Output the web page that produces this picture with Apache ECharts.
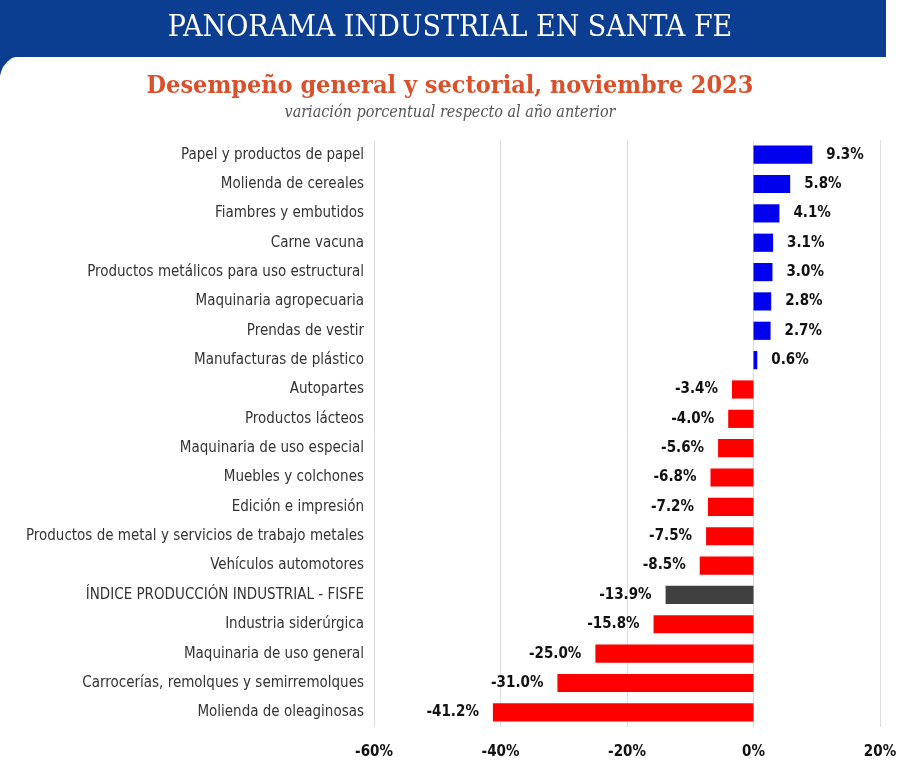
<!DOCTYPE html>
<html>
<head>
<meta charset="utf-8">
<script src="https://cdn.jsdelivr.net/npm/echarts@6/dist/echarts.min.js"></script>
<style>
  html, body { margin: 0; padding: 0; background: #fff; }
  #main { width: 900px; height: 776px; }
</style>
</head>
<body>
<div id="main"></div>
<script>
// datos del gráfico
var categorias = [
  'Papel y productos de papel',
  'Molienda de cereales',
  'Fiambres y embutidos',
  'Carne vacuna',
  'Productos metálicos para uso estructural',
  'Maquinaria agropecuaria',
  'Prendas de vestir',
  'Manufacturas de plástico',
  'Autopartes',
  'Productos lácteos',
  'Maquinaria de uso especial',
  'Muebles y colchones',
  'Edición e impresión',
  'Productos de metal y servicios de trabajo metales',
  'Vehículos automotores',
  'ÍNDICE PRODUCCIÓN INDUSTRIAL - FISFE',
  'Industria siderúrgica',
  'Maquinaria de uso general',
  'Carrocerías, remolques y semirremolques',
  'Molienda de oleaginosas'
];
var variaciones = [9.3, 5.8, 4.1, 3.1, 3.0, 2.8, 2.7, 0.6, -3.4, -4.0, -5.6, -6.8, -7.2, -7.5, -8.5, -13.9, -15.8, -25.0, -31.0, -41.2];
var indiceGeneral = 'ÍNDICE PRODUCCIÓN INDUSTRIAL - FISFE';
var ejeMin = -60, ejeMax = 20, ejeIntervalo = 20;

var myChart = echarts.init(document.getElementById('main'));

var datos = variaciones.map(function (v, i) {
  var color = categorias[i] === indiceGeneral ? '#404040' : (v >= 0 ? '#0000ee' : '#ff0000');
  return {
    value: v,
    itemStyle: { color: color },
    label: { position: v >= 0 ? 'right' : 'left' }
  };
});

var fuenteNarrow = '"Liberation Sans Narrow", "DejaVu Sans Condensed", sans-serif';
var fuenteSerif = '"DejaVu Serif Condensed", "DejaVu Serif", serif';

var option = {
  backgroundColor: '#fff',
  animation: false,
  graphic: [
    // banda azul del encabezado
    {
      type: 'rect',
      shape: { x: 0, y: 0, width: 886, height: 57 },
      style: { fill: '#0b3d91' }
    },
    {
      type: 'polygon',
      shape: { points: [[0, 56], [19, 56], [12, 58], [7, 62], [3, 67], [1, 72], [0, 76]] },
      style: { fill: '#0b3d91' }
    },
    {
      type: 'text',
      left: 'center',
      top: 13,
      style: {
        text: 'PANORAMA INDUSTRIAL EN SANTA FE',
        fill: '#ffffff',
        font: '30px ' + fuenteSerif
      }
    },
    {
      type: 'text',
      left: 'center',
      top: 74,
      style: {
        text: 'Desempeño general y sectorial, noviembre 2023',
        fill: '#d9502a',
        font: 'bold 25px ' + fuenteSerif
      }
    },
    {
      type: 'text',
      left: 'center',
      top: 105,
      style: {
        text: 'variación porcentual respecto al año anterior',
        fill: '#555555',
        font: 'italic 16px ' + fuenteSerif
      }
    }
  ],
  grid: {
    left: 374,
    right: 20,
    top: 140,
    bottom: 49,
    containLabel: false
  },
  xAxis: {
    type: 'value',
    min: ejeMin,
    max: ejeMax,
    interval: ejeIntervalo,
    axisLine: { show: false },
    axisTick: { show: false },
    splitLine: { show: true, lineStyle: { color: '#dddddd', width: 1 } },
    axisLabel: {
      formatter: '{value}%',
      color: '#111',
      fontWeight: 'bold',
      fontSize: 15,
      fontFamily: fuenteNarrow,
      margin: 18
    }
  },
  yAxis: {
    type: 'category',
    inverse: true,
    data: categorias,
    axisLine: { show: false },
    axisTick: { show: false },
    axisLabel: {
      color: '#333',
      fontSize: 15,
      fontFamily: fuenteNarrow,
      margin: 10
    }
  },
  series: [
    {
      name: 'Variación',
      type: 'bar',
      barWidth: '62%',
      data: datos,
      label: {
        show: true,
        distance: 14,
        color: '#111',
        fontWeight: 'bold',
        fontSize: 15,
        fontFamily: fuenteNarrow,
        formatter: function (p) { return p.value.toFixed(1) + '%'; }
      }
    }
  ]
};

myChart.setOption(option);
</script>
</body>
</html>
